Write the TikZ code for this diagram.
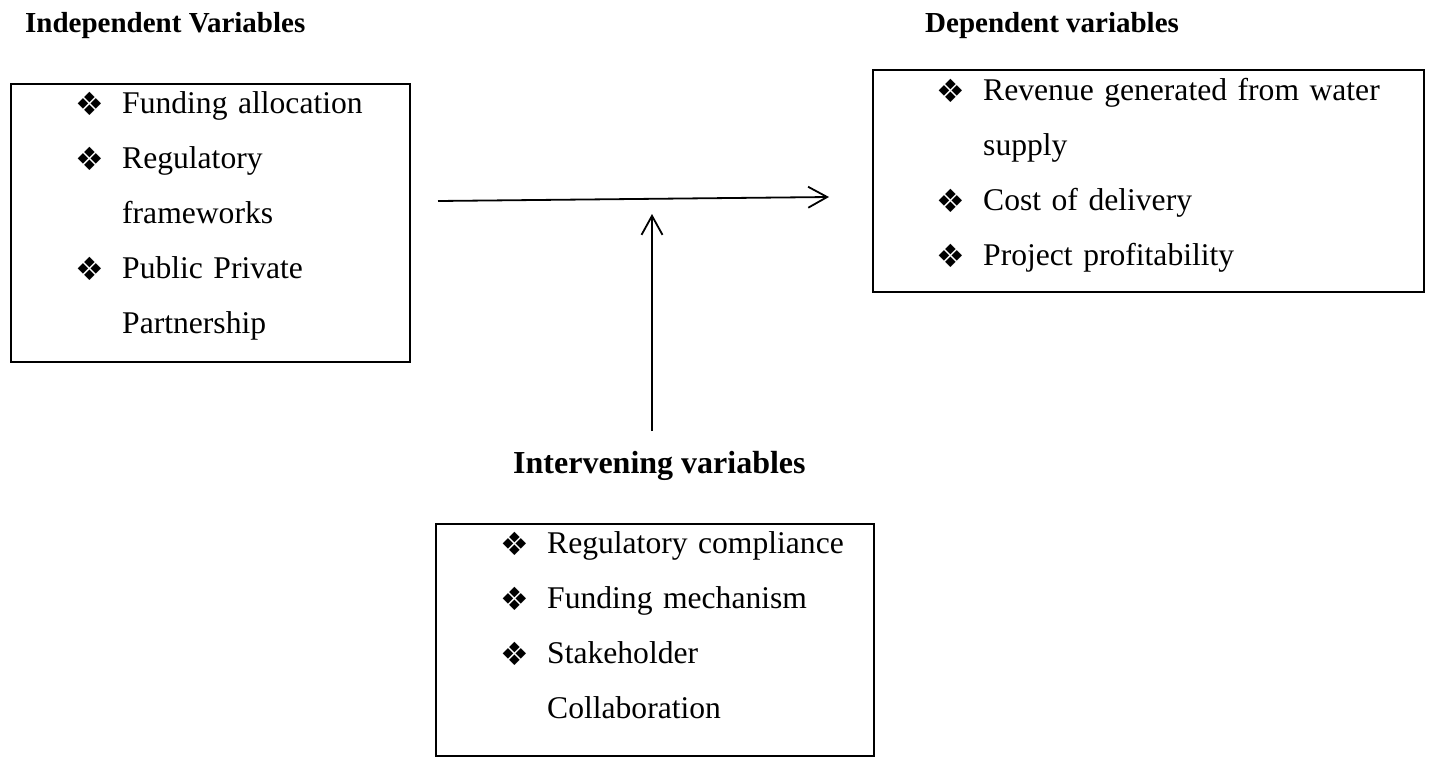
\documentclass[tikz,border=0pt]{standalone}
\usepackage{fontspec}
\setmainfont{Liberation Serif}
\newfontfamily\dingfont{DejaVu Sans}
\usetikzlibrary{positioning,arrows.meta}

\newcommand{\bul}{{\dingfont\fontsize{32}{32}\selectfont ❖}}
\newcommand{\itm}{\makebox[45pt][l]{\hspace*{-2pt}\raisebox{-2pt}{\bul}}}
\newcommand{\cont}{\hspace*{45pt}}

\begin{document}
\begin{tikzpicture}[x=1pt, y=-1pt,
		varbox/.style={draw, line width=2pt, inner sep=0pt, anchor=north west},
		itemlist/.style={inner sep=0pt, anchor=base west, align=left, text width=#1,
			font=\fontsize{31.6}{55}\selectfont},
		vartitle/.style={inner sep=0pt, anchor=base west, font=\bfseries\fontsize{29}{29}\selectfont},
		conn/.style={line width=1.8pt, -{Straight Barb[length=19pt, width=21pt, line width=1.8pt]}}]
			\useasboundingbox (0,0) rectangle (1429,758);
			% titles
			\node [vartitle] (indepTitle) at (25,32) {Independent Variables};
			\node [vartitle] (depTitle) at (925,32) {Dependent variables};
			\node [vartitle, font=\bfseries\fontsize{32}{32}\selectfont] (intervTitle) at (513,473) {Intervening variables};
			% boxes
			\node [varbox, minimum width=399, minimum height=278] (indep) at (10,83) {};
			\node [varbox, minimum width=551, minimum height=222] (dep) at (872,69) {};
			\node [varbox, minimum width=438, minimum height=232] (interv) at (435,523) {};
			% lists
			\node [itemlist=330pt] (indepList) at ([xshift=67pt, yshift=-30pt]indep.north west)
				{\itm Funding allocation\\ \itm Regulatory\\ \cont frameworks\\ \itm Public Private\\ \cont Partnership};
			\node [itemlist=480pt] (depList) at ([xshift=66pt, yshift=-31pt]dep.north west)
				{\itm Revenue generated from water\\ \cont supply\\ \itm Cost of delivery\\ \itm Project profitability};
			\node [itemlist=370pt] (intervList) at ([xshift=67pt, yshift=-30pt]interv.north west)
				{\itm Regulatory compliance\\ \itm Funding mechanism\\ \itm Stakeholder\\ \cont Collaboration};
			% arrows
			\coordinate (hStart) at (438,201);
			\coordinate (hEnd) at (829,197);
			\coordinate (vStart) at (652,431);
			\coordinate (vEnd) at (652,214);
			\draw [conn] (hStart) -- (hEnd);
			\draw [conn] (vStart) -- (vEnd);
		\end{tikzpicture}
\end{document}
